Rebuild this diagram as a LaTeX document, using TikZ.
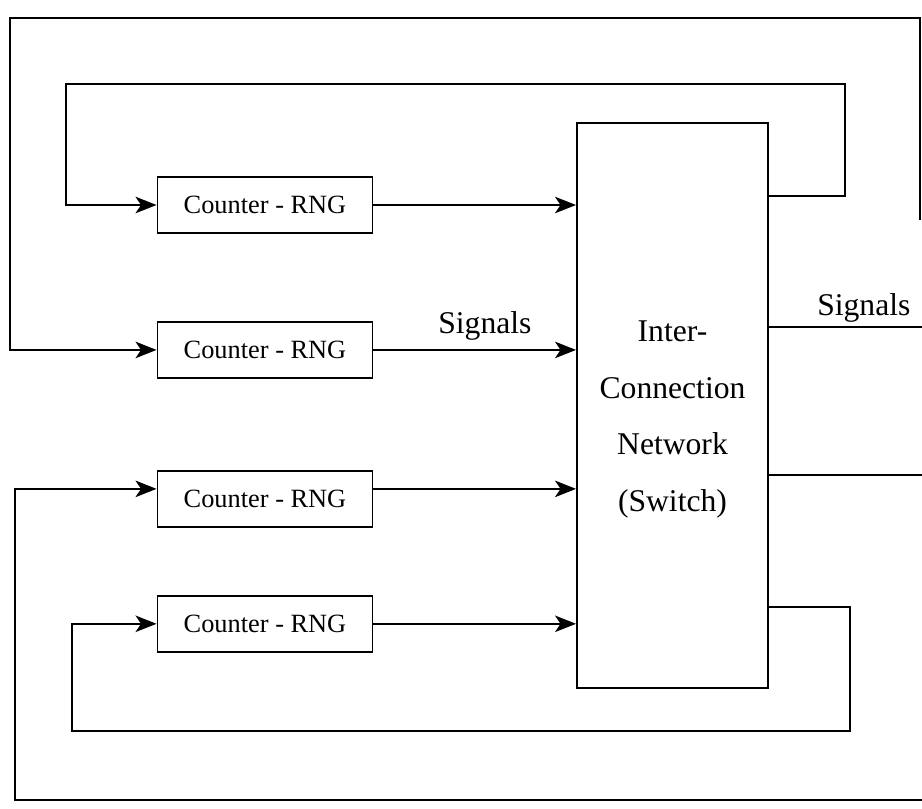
\documentclass[tikz,border=0pt]{standalone}
\usepackage{fontspec}
\setmainfont{Liberation Serif}
\usetikzlibrary{positioning, arrows.meta}

\begin{document}
\begin{tikzpicture}[
node distance=1.5cm,
block/.style={
	rectangle,
	draw,
	line width=1.1pt,
	minimum width=4.3cm,
	minimum height=1.12cm,
	inner sep=0pt,
	font=\fontsize{15}{18}\selectfont
},
switchbox/.style={
	rectangle,
	draw,
	line width=1.1pt,
	minimum width=3.82cm,
	minimum height=11.3cm
},
switchtext/.style={
	align=center,
	inner sep=0pt,
	font=\fontsize{18}{32.2}\selectfont
},
line/.style={
	draw, line width=1.1pt, -{Stealth[length=4.2mm, width=3.3mm, inset=1.1mm]}
},
wire/.style={
	draw, line width=1.1pt
},
tag/.style={
	font=\fontsize{18}{21}\selectfont,
	inner sep=2pt
}
]

\useasboundingbox (0,0) rectangle (18.44,-16.16);

% Nodes
\node[block] (rng1) at (5.30,-4.10) {Counter - RNG};
\node[block, below=1.74cm of rng1] (rng2) {Counter - RNG};
\node[block, below=1.82cm of rng2] (rng3) {Counter - RNG};
\node[block, below=1.34cm of rng3] (rng4) {Counter - RNG};
\node[switchbox] (switch) at (13.45,-8.11) {};
\node[switchtext] (switchlabel) at ([yshift=-0.28cm]switch.center) {Inter-\\Connection\\Network\\(Switch)};

% Loop corners and free ends
\coordinate (tloopout) at (16.90,-3.92);
\coordinate (tloopnw) at (1.32,-1.68);
\coordinate (bloopout) at (17.00,-12.14);
\coordinate (bloopsw) at (1.44,-14.62);
\coordinate (oloopne) at (18.40,-4.40);
\coordinate (oloopnw) at (0.20,-0.36);
\coordinate (oloopse) at (18.44,-16.00);
\coordinate (oloopsw) at (0.30,-16.00);
\coordinate (sigout) at (18.44,-6.54);
\coordinate (swout) at (18.44,-9.50);

% Lines into the switch
\draw[line] (rng1.east) -- (rng1.east -| switch.west);
\draw[line] (rng2.east) -- node[tag, above=3pt, pos=0.55] (sigin) {Signals} (rng2.east -| switch.west);
\draw[line] ([yshift=0.2cm]rng3.east) -- ([yshift=0.2cm]rng3.east -| switch.west);
\draw[line] (rng4.east) -- (rng4.east -| switch.west);

% Lines out of the switch
\draw[wire] (switch.east |- sigout) -- node[tag, above, pos=0.62] (sigoutlabel) {Signals} (sigout);
\draw[wire] (switch.east |- swout) -- (swout);

% Feedback loops
\draw[line] (switch.east |- tloopout) -- (tloopout) |- (tloopnw) |- (rng1.west);
\draw[line] (switch.east |- bloopout) -- (bloopout) |- (bloopsw) |- (rng4.west);
\draw[line] (oloopne) |- (oloopnw) |- (rng2.west);
\draw[line] (oloopse) -- (oloopsw) |- ([yshift=0.2cm]rng3.west);

\end{tikzpicture}
\end{document}
